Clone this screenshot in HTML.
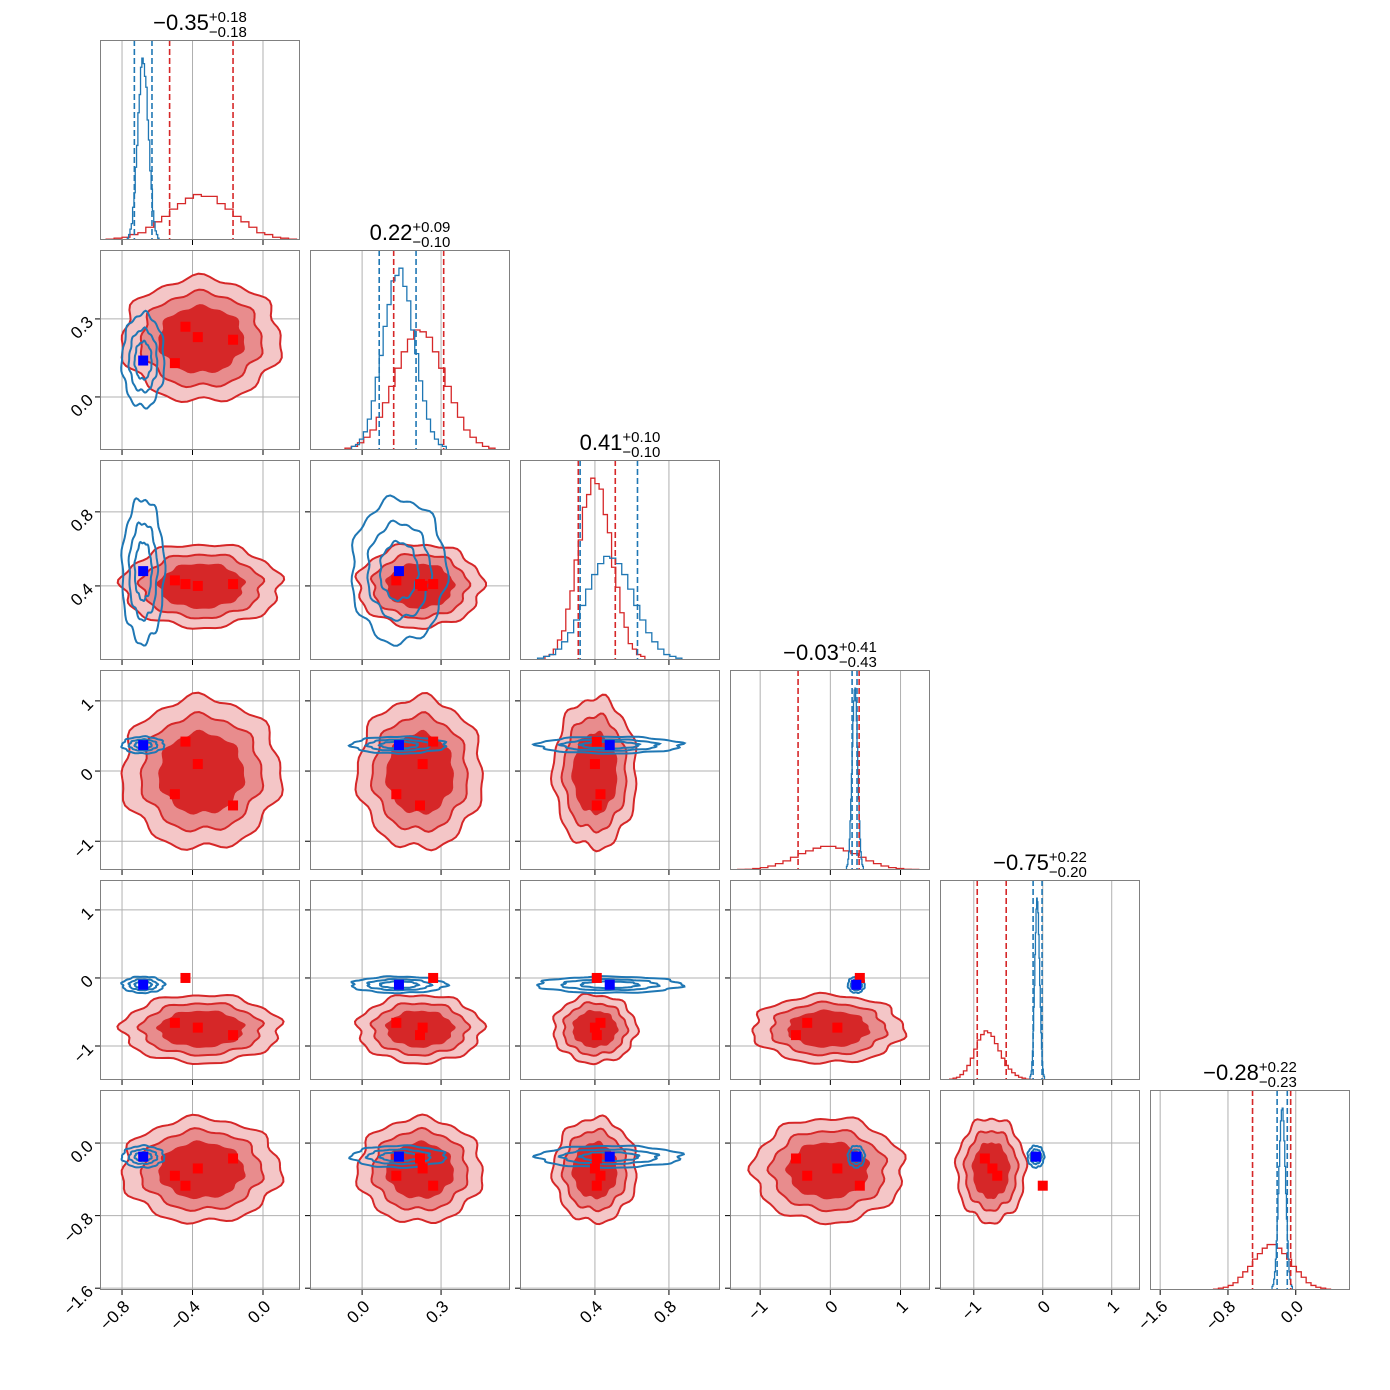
<!DOCTYPE html>
<html><head><meta charset="utf-8"><style>
html,body{margin:0;padding:0;background:#fff}
svg{display:block;font-family:"Liberation Sans","DejaVu Sans",sans-serif}
</style></head><body>
<svg id="c" width="1390" height="1390" viewBox="0 0 1390 1390"></svg>
<script>
// ---- data ----
const redMean=[-0.35,0.22,0.40,-0.03,-0.75,-0.30];
const redSd=[0.18,0.095,0.09,0.43,0.20,0.23];
const blueMean=[-0.68,0.14,0.48,0.37,-0.10,-0.15];
const blueSd=[0.04,0.06,0.13,0.04,0.04,0.04];
const redPtsP0=[-0.50,-0.44,-0.37,-0.17];
const redPtsP1=[0.13,0.27,0.23,0.22];
const redPtsP2=[0.43,0.41,0.40,0.41];
const redPtsP3=[-0.33,0.42,0.10,-0.49];
const redPtsP4=[-0.66,0.00,-0.73,-0.84];
const redPtsP5=[-0.36,-0.47,-0.28,-0.17];
const bluePt=[-0.68,0.14,0.48,0.37,-0.10,-0.15];
const redQ=[[-0.53,-0.17],[0.12,0.31],[0.31,0.51],[-0.46,0.41],[-0.95,-0.53],[-0.51,-0.06]];
const blueQ=[[-0.73,-0.63],[0.065,0.205],[0.32,0.63],[0.31,0.38],[-0.14,-0.01],[-0.22,-0.10]];
const titleMain=["−0.35","0.22","0.41","−0.03","−0.75","−0.28"];
const titleUp=["+0.18","+0.09","+0.10","+0.41","+0.22","+0.22"];
const titleDn=["−0.18","−0.10","−0.10","−0.43","−0.20","−0.23"];
const redHistLo=[-0.89,-0.065,0.13,-1.32,-1.35,-0.97];
const redHistBw=[0.045,0.02375,0.0225,0.1075,0.05,0.0575];
const redHist0=[0.5,1,1.5,3,4,7,10,13,17,20,23,25,24,24,20,17,13,10,7,4,3,1.5,1,0.5];
const redHist1=[1,2,4,7,11,18,26,35,45,54,61,66,65,62,54,45,35,26,18,11,7,4,2,1];
const redHist2=[2,3,6,11,16,28,38,55,66,84,91,100,97,94,80,70,51,40,26,18,9,6,3,2];
const redHist3=[0.3,0.4,0.8,1.3,2.2,3.5,5,7,9,10.5,12,13,13,12,10.5,9,7,5,3.5,2.2,1.3,0.8,0.4,0.3];
const redHist4=[0.5,1,1.5,3,5,8,12,17,22,25,27,26,24,20,16,12,8,6,4,2.5,1.5,1,0.5,0.3];
const redHist5=[0.5,1,1.5,2.5,4,7,10,13,17,20,23,25,25,23,20,17,13,10,7,4,2.5,1.5,1,0.5];
const blueHistLo=[-0.77,-0.04,0.09,0.23,-0.185,-0.28];
const blueHistBw=[0.0075,0.015,0.0325,0.01,0.00875,0.01];
const blueHist0=[1,3,6,9,18,26,40,52,70,80,95,100,97,90,84,66,55,38,28,16,10,5,3,1];
const blueHist1=[2,3,6,10,17,27,40,52,68,80,93,96,100,90,82,66,53,38,27,17,10,6,3,2];
const blueHist2=[1,2,3,6,10,15,22,30,39,47,53,57,56,53,47,39,30,22,15,10,6,3,2,1];
const blueHist3=[2,3,6,10,17,27,39,53,68,82,93,99,100,93,82,68,53,39,27,17,10,6,3,2];
const blueHist4=[2,3,5,10,16,27,40,52,69,81,94,100,98,92,80,67,52,40,26,17,10,6,3,2];
const blueHist5=[2,3,6,10,17,27,39,53,68,82,93,99,100,93,82,68,53,39,27,17,10,6,3,2];
const tickVals=[[-0.8,-0.4,0.0],[0.0,0.3],[0.4,0.8],[-1,0,1],[-1,0,1],[-1.6,-0.8,0.0]];
const tickLabels=[["−0.8","−0.4","0.0"],["0.0","0.3"],["0.4","0.8"],["−1","0","1"],["−1","0","1"],["−1.6","−0.8","0.0"]];
// ---- axes config ----
const xr=[[-0.925,0.21],[-0.198,0.562],[-0.005,1.076],[-1.43,1.42],[-1.49,1.41],[-1.72,0.64]];
const yr=[[-0.925,0.21],[-0.204,0.565],[0.0,1.08],[-1.41,1.44],[-1.5,1.44],[-1.62,0.585]];
const redPts=[redPtsP0,redPtsP1,redPtsP2,redPtsP3,redPtsP4,redPtsP5];
const redHists=[redHist0,redHist1,redHist2,redHist3,redHist4,redHist5];
const blueHists=[blueHist0,blueHist1,blueHist2,blueHist3,blueHist4,blueHist5];
const S=200,G=210,X0=100,Y0=40;
const svg=document.getElementById('c');
const NS='http://www.w3.org/2000/svg';
function mk(tag,attrs,parent){const e=document.createElementNS(NS,tag);for(const k in attrs)e.setAttribute(k,attrs[k]);(parent||svg).appendChild(e);return e;}
const RED='#d62728',BLUE='#1f77b4';
const defs=mk('defs',{});
for(let r=0;r<6;r++){for(let c=0;c<=r;c++){
  const px=X0+c*G,py=Y0+r*G;
  const cp=mk('clipPath',{id:'cp'+r+'_'+c},defs);mk('rect',{x:px,y:py,width:S,height:S},cp);
  const sx=v=>px+(v-xr[c][0])/(xr[c][1]-xr[c][0])*S;
  const g=mk('g',{});
  
  
  const inner=mk('g',{'clip-path':'url(#cp'+r+'_'+c+')'},g);
  tickVals[c].forEach(t=>{mk('line',{x1:sx(t),x2:sx(t),y1:py,y2:py+S,stroke:'#b0b0b0','stroke-width':1},inner);});
  if(r===c){
    const ymax=1.1*Math.max(...redHists[c],...blueHists[c]);
    const sy=v=>py+S-v/ymax*S;
    function hist(lo,bw,arr,col,name){
      let d='M'+sx(lo)+','+sy(0);
      arr.forEach((v,i)=>{d+='L'+sx(lo+i*bw)+','+sy(v)+'L'+sx(lo+(i+1)*bw)+','+sy(v);});
      d+='L'+sx(lo+arr.length*bw)+','+sy(0);
      const p=mk('path',{d:d,fill:'none',stroke:col,'stroke-width':1.3},inner);
      
      
    }
    hist(redHistLo[c],redHistBw[c],redHists[c],RED,'red-histogram');
    hist(blueHistLo[c],blueHistBw[c],blueHists[c],BLUE,'blue-histogram');
    redQ[c].forEach(q=>{const l=mk('line',{x1:sx(q),x2:sx(q),y1:py,y2:py+S,stroke:RED,'stroke-width':1.6,'stroke-dasharray':'6,3'},inner);
      
      });
    blueQ[c].forEach(q=>{const l=mk('line',{x1:sx(q),x2:sx(q),y1:py,y2:py+S,stroke:BLUE,'stroke-width':1.6,'stroke-dasharray':'6,3'},inner);
      
      });
    const cx=px+S/2;
    const tg=mk('g',{},svg);
    
    
    const tm=mk('text',{x:0,y:py-10,'font-size':22,fill:'#000'},tg);tm.textContent=titleMain[c];
    const w1=tm.getComputedTextLength();
    const tu=mk('text',{x:0,y:py-18,'font-size':15},tg);tu.textContent=titleUp[c];
    const td=mk('text',{x:0,y:py-3,'font-size':15},tg);td.textContent=titleDn[c];
    const w2=Math.max(tu.getComputedTextLength(),td.getComputedTextLength());
    const start=cx-(w1+w2)/2;
    tm.setAttribute('x',start);tu.setAttribute('x',start+w1);td.setAttribute('x',start+w1);
  } else {
    const sy=v=>py+S-(v-yr[r][0])/(yr[r][1]-yr[r][0])*S;
    tickVals[r].forEach(t=>{mk('line',{x1:px,x2:px+S,y1:sy(t),y2:sy(t),stroke:'#b0b0b0','stroke-width':1},inner);});
    function ell(mx,my,ax,ay,k,seed){
      let d='';const N=90;
      for(let i=0;i<=N;i++){const a=i/N*2*Math.PI;
        const w=1+0.04*Math.sin(7*a+seed)+0.03*Math.sin(13*a+2*seed);
        const x=sx(mx+k*ax*w*Math.cos(a)),y=sy(my+k*ay*w*Math.sin(a));
        d+=(i?'L':'M')+x.toFixed(1)+','+y.toFixed(1);}
      return d+'Z';
    }
    const seed=r*3+c;
    const lvl=[[2.5,'#f4c6c7',true],[1.9,'#e88c8d',true],[1.35,RED,false]];
    lvl.forEach(([k,f,ol])=>{
      const p=mk('path',{d:ell(redMean[c],redMean[r],redSd[c],redSd[r],k,seed),fill:f,stroke:ol?RED:'none','stroke-width':2},inner);
      
      
    });
    [1.2,2,3].forEach(k=>{
      const p=mk('path',{d:ell(blueMean[c],blueMean[r],blueSd[c],blueSd[r],k,seed+1),fill:'none',stroke:BLUE,'stroke-width':2},inner);
      
      
    });
    redPts[c].forEach((v,i)=>{const q=mk('rect',{x:sx(v)-5,y:sy(redPts[r][i])-5,width:10,height:10,fill:'#ff0000'},inner);
      
      });
    const b=mk('rect',{x:sx(bluePt[c])-5,y:sy(bluePt[r])-5,width:10,height:10,fill:'#0000ff'},inner);
    
    
    tickVals[r].forEach((t,i)=>{mk('line',{x1:px-5,x2:px,y1:sy(t),y2:sy(t),stroke:'#000','stroke-width':1},g);
      if(c===0){const tx=mk('text',{x:px-10,y:sy(t)+6,'font-size':17,'text-anchor':'end',transform:'rotate(-45 '+(px-10)+' '+sy(t)+')'},g);tx.textContent=tickLabels[r][i];
        
        }
    });
  }
  mk('rect',{x:px+0.5,y:py+0.5,width:S-1,height:S-1,fill:'none',stroke:'#808080','stroke-width':1},g);
  tickVals[c].forEach((t,i)=>{mk('line',{x1:sx(t),x2:sx(t),y1:py+S,y2:py+S+5,stroke:'#000','stroke-width':1},g);
    if(r===5){const yy=py+S+14;const tx=mk('text',{x:sx(t)+5,y:yy+5,'font-size':17,'text-anchor':'end',transform:'rotate(-45 '+(sx(t)+5)+' '+yy+')'},g);tx.textContent=tickLabels[c][i];
      
      }
  });
}}
</script>
</body></html>
